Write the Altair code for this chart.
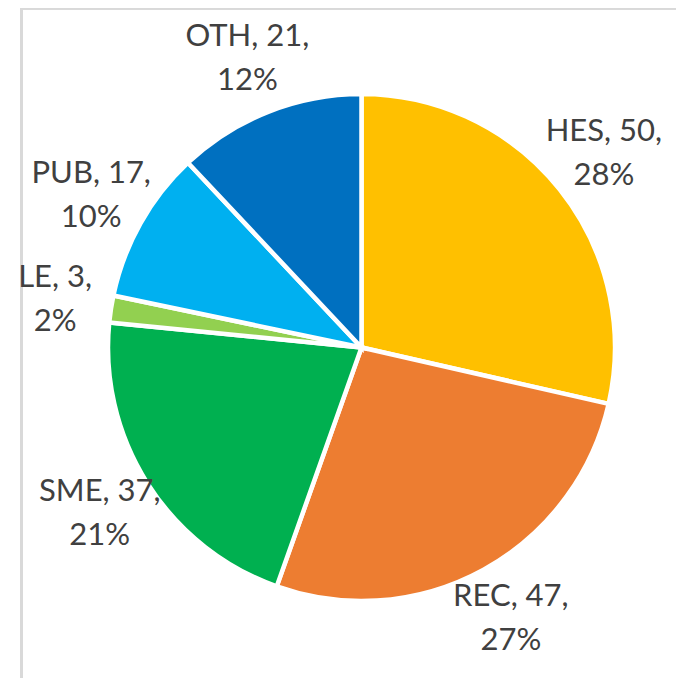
import altair as alt
import pandas as pd

categories = ["HES", "REC", "SME", "LE", "PUB", "OTH"]
values = [50, 47, 37, 3, 17, 21]
percents = [28, 27, 21, 2, 10, 12]
colors = ["#FFC000", "#ED7D31", "#00B050", "#92D050", "#00B0F0", "#0070C0"]

df = pd.DataFrame({
    "cat": categories,
    "value": values,
    "pct": percents,
    "order": list(range(len(categories))),
})
df["label"] = [f"{c}, {v},\n{p}%" for c, v, p in zip(categories, values, percents)]

W, H = 668, 670
CX, CY = 353.5, 339.5

base = alt.Chart(df).encode(
    theta=alt.Theta("value:Q", stack=True),
    order=alt.Order("order:Q"),
    x=alt.value(CX),
    y=alt.value(CY),
)

pie = base.mark_arc(outerRadius=253.5, stroke="white", strokeWidth=4.5).encode(
    color=alt.Color("cat:N", scale=alt.Scale(domain=categories, range=colors), legend=None)
)

labels = base.mark_text(
    radius=310, dy=-22, font="Lato", fontSize=31, color="#404040",
    lineBreak="\n", lineHeight=44, align="center", baseline="middle",
).encode(text="label:N", detail="cat:N")

frame_left = alt.Chart(df).mark_rule(color="#d9d9d9", strokeWidth=3).encode(
    x=alt.value(13.5), y=alt.value(0), y2=alt.value(H)
)
frame_top = alt.Chart(df).mark_rule(color="#d9d9d9", strokeWidth=3).encode(
    x=alt.value(12), x2=alt.value(W), y=alt.value(0)
)

chart = alt.layer(frame_left, frame_top, pie, labels).properties(
    width=W, height=H, padding=0, autosize=alt.AutoSizeParams(type="none"),
).configure_view(stroke=None)

chart.save("out.html", embed_options={"renderer": "svg", "actions": False})
